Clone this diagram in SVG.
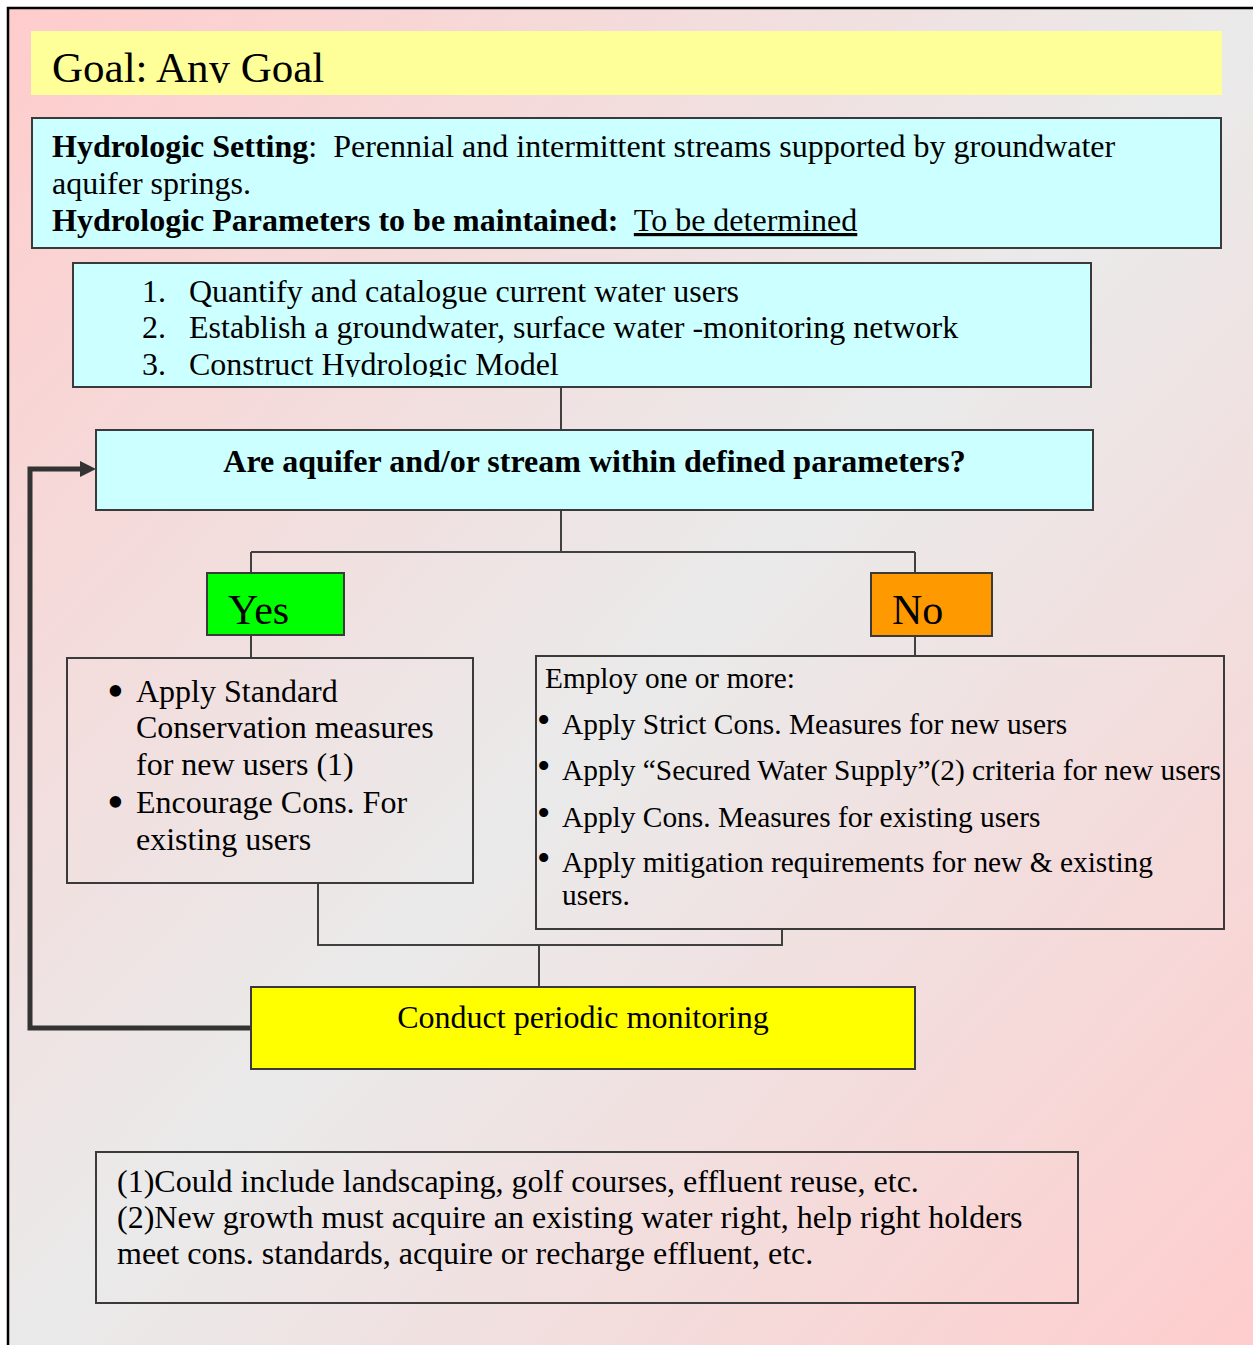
<svg xmlns="http://www.w3.org/2000/svg" width="1253" height="1345" viewBox="0 0 1253 1345">
<defs>
<linearGradient id="bg" x1="0" y1="0" x2="1" y2="1">
<stop offset="0" stop-color="#FFCCCC"/>
<stop offset="0.5" stop-color="#EAEAEA"/>
<stop offset="1" stop-color="#FFCCCC"/>
</linearGradient>
<marker id="arr" viewBox="0 0 16 16" markerUnits="userSpaceOnUse" markerWidth="16" markerHeight="16" refX="0" refY="8" orient="auto">
<path d="M0,0 L16,8 L0,16 z" fill="#333333"/>
</marker>
<clipPath id="clipGoal"><rect x="31" y="31" width="1191" height="52"/></clipPath>
<clipPath id="clipList"><rect x="73" y="263" width="1018" height="114"/></clipPath>
</defs>
<style>
.t{font-family:"Liberation Serif","Times New Roman",serif;fill:#000}
.b{font-weight:bold}
.box{stroke:#3a3a3a;stroke-width:2}
.cn{fill:none;stroke:#404040;stroke-width:2}
</style>
<rect x="0" y="0" width="1253" height="1345" fill="#FFFFFF"/>
<rect id="frame" x="8" y="8" width="1270" height="1360" fill="url(#bg)" stroke="#000" stroke-width="2.5"/>

<g id="connectors">
<path class="cn" d="M561 387 V430"/>
<path class="cn" d="M561 510 V552 M251 552 H915 M251 552 V573 M915 552 V573"/>
<path class="cn" d="M251 635 V658"/>
<path class="cn" d="M915 636 V656"/>
<path class="cn" d="M318 883 V945 H782 V929"/>
<path class="cn" d="M539 945 V987"/>
<path fill="none" stroke="#333333" stroke-width="5" d="M251 1028 H30 V469 H80" marker-end="url(#arr)"/>
</g>

<g id="goal">
<rect x="31" y="31" width="1191" height="64" fill="#FFFF99"/>
<text class="t" x="52" y="82" font-size="43" clip-path="url(#clipGoal)">Goal: Any Goal</text>
</g>

<g id="setting">
<rect class="box" x="32" y="118" width="1189" height="130" fill="#CCFFFF"/>
<text class="t" x="52" y="157" font-size="32" xml:space="preserve"><tspan class="b">Hydrologic Setting</tspan>:  Perennial and intermittent streams supported by groundwater</text>
<text class="t" x="52" y="194" font-size="32">aquifer springs.</text>
<text class="t" x="52" y="231" font-size="32" xml:space="preserve"><tspan class="b">Hydrologic Parameters to be maintained:</tspan>  <tspan text-decoration="underline">To be determined</tspan></text>
</g>

<g id="steps">
<rect class="box" x="73" y="263" width="1018" height="124" fill="#CCFFFF"/>
<g clip-path="url(#clipList)">
<text class="t" x="142" y="302" font-size="32">1.</text>
<text class="t" x="189" y="302" font-size="32">Quantify and catalogue current water users</text>
<text class="t" x="142" y="338" font-size="32">2.</text>
<text class="t" x="189" y="338" font-size="32">Establish a groundwater, surface water -monitoring network</text>
<text class="t" x="142" y="375" font-size="32">3.</text>
<text class="t" x="189" y="375" font-size="32">Construct Hydrologic Model</text>
</g>
</g>

<g id="question">
<rect class="box" x="96" y="430" width="997" height="80" fill="#CCFFFF"/>
<text class="t b" x="594.5" y="472" font-size="32" text-anchor="middle">Are aquifer and/or stream within defined parameters?</text>
</g>

<g id="yes">
<rect class="box" x="207" y="573" width="137" height="62" fill="#00FF00"/>
<text class="t" x="228" y="624" font-size="42">Yes</text>
</g>

<g id="no">
<rect class="box" x="871" y="573" width="121" height="63" fill="#FF9900"/>
<text class="t" x="892" y="624" font-size="42">No</text>
</g>

<g id="yesActions">
<rect class="box" x="67" y="658" width="406" height="225" fill="none"/>
<text class="t" x="107" y="707" font-size="48">•</text>
<text class="t" x="136" y="702" font-size="32">Apply Standard</text>
<text class="t" x="136" y="738" font-size="32">Conservation measures</text>
<text class="t" x="136" y="775" font-size="32">for new users (1)</text>
<text class="t" x="107" y="818" font-size="48">•</text>
<text class="t" x="136" y="813" font-size="32">Encourage Cons. For</text>
<text class="t" x="136" y="850" font-size="32">existing users</text>
</g>

<g id="noActions">
<rect class="box" x="536" y="656" width="688" height="273" fill="none"/>
<text class="t" x="545" y="688" font-size="29.3">Employ one or more:</text>
<text class="t" x="537" y="733" font-size="38">•</text>
<text class="t" x="562" y="734" font-size="29.4">Apply Strict Cons. Measures for new users</text>
<text class="t" x="537" y="779" font-size="38">•</text>
<text class="t" x="562" y="780" font-size="29.4">Apply “Secured Water Supply”(2) criteria for new users</text>
<text class="t" x="537" y="826" font-size="38">•</text>
<text class="t" x="562" y="827" font-size="29.4">Apply Cons. Measures for existing users</text>
<text class="t" x="537" y="871" font-size="38">•</text>
<text class="t" x="562" y="872" font-size="29.4">Apply mitigation requirements for new &amp; existing</text>
<text class="t" x="562" y="905" font-size="29.4">users.</text>
</g>

<g id="monitor">
<rect class="box" x="251" y="987" width="664" height="82" fill="#FFFF00"/>
<text class="t" x="583" y="1028" font-size="32" text-anchor="middle">Conduct periodic monitoring</text>
</g>

<g id="notes">
<rect class="box" x="96" y="1152" width="982" height="151" fill="none"/>
<text class="t" x="117" y="1192" font-size="32">(1)Could include landscaping, golf courses, effluent reuse, etc.</text>
<text class="t" x="117" y="1228" font-size="32">(2)New growth must acquire an existing water right, help right holders</text>
<text class="t" x="117" y="1264" font-size="32">meet cons. standards, acquire or recharge effluent, etc.</text>
</g>
</svg>
